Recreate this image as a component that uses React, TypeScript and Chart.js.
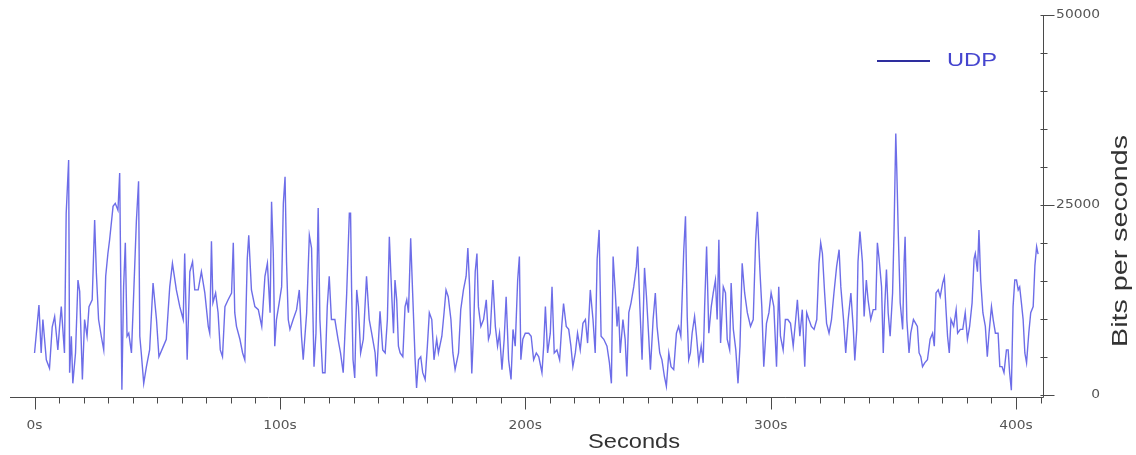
import React, { useEffect, useRef } from "react";
import { Chart, registerables } from "chart.js";

Chart.register(...registerables);

// Sample times (seconds)
const sampleSeconds: number[] = [
  0, 1.8, 2.7, 3.4, 4.8, 6.1, 7.2, 8.2, 9.5, 10.2,
  10.9, 12.2, 12.9, 13.9, 14.3, 15.0, 15.6, 16.7, 17.7, 18.4,
  19.5, 20.4, 21.4, 22.2, 23.5, 24.5, 25.2, 26.1, 27.2, 28.2,
  29.0, 29.9, 30.6, 32.0, 32.9, 34.0, 34.7, 35.6, 36.3, 37.0,
  37.7, 38.4, 39.5, 40.4, 41.5, 42.4, 42.9, 43.5, 44.5, 45.6,
  46.9, 48.3, 49.7, 50.7, 52.4, 53.7, 55.1, 56.2, 57.8, 59.2,
  60.6, 61.2, 62.2, 63.3, 64.4, 65.3, 66.7, 68.0, 69.4, 70.8,
  71.4, 72.1, 72.7, 73.8, 74.8, 75.7, 76.6, 77.6, 78.9, 80.3,
  81.0, 81.6, 82.3, 83.7, 84.8, 85.7, 86.7, 87.3, 88.4, 89.8,
  91.2, 92.6, 93.9, 94.9, 96.0, 96.6, 97.3, 97.9, 98.6, 99.7,
  100.7, 101.4, 102.1, 102.7, 103.4, 104.1, 105.4, 106.8, 107.9, 108.8,
  109.5, 110.9, 112.0, 112.9, 113.9, 114.7, 115.6, 116.3, 117.4, 118.4,
  119.3, 120.1, 121.0, 122.4, 123.7, 124.7, 125.8, 127.2, 128.3, 128.8,
  129.2, 129.8, 130.5, 131.3, 132.0, 132.9, 134.0, 135.3, 136.4, 137.4,
  138.8, 139.4, 140.8, 141.9, 142.9, 143.8, 144.6, 145.6, 146.3, 146.9,
  147.6, 148.3, 149.0, 150.1, 151.0, 151.7, 152.4, 153.3, 154.1, 155.1,
  155.7, 156.5, 157.4, 158.2, 159.2, 160.1, 160.9, 161.9, 162.8, 163.9,
  164.6, 166.0, 166.9, 167.7, 168.6, 169.7, 170.5, 171.4, 172.8, 173.7,
  174.8, 175.9, 176.6, 177.3, 178.2, 178.9, 179.6, 180.3, 180.9, 181.9,
  183.0, 184.1, 185.0, 185.7, 186.8, 187.8, 188.7, 189.5, 190.5, 191.4,
  192.2, 193.2, 194.2, 195.0, 195.9, 196.9, 197.6, 198.2, 199.0, 200.0,
  201.4, 202.4, 203.4, 204.5, 205.5, 206.8, 207.5, 208.2, 209.1, 210.2,
  210.9, 211.8, 212.9, 214.0, 214.9, 215.6, 216.7, 217.7, 218.6, 219.4,
  220.4, 221.3, 222.4, 223.5, 224.5, 225.4, 226.5, 227.6, 228.5, 229.3,
  230.1, 230.9, 232.0, 233.3, 234.3, 235.1, 235.8, 236.7, 237.4, 238.0,
  238.7, 239.8, 240.7, 241.4, 242.2, 243.1, 244.2, 245.3, 245.8, 246.7,
  247.6, 248.6, 249.4, 250.3, 251.0, 252.1, 253.0, 253.7, 254.8, 255.7,
  256.7, 257.5, 258.5, 259.4, 260.5, 261.6, 262.5, 263.4, 264.6, 265.3,
  266.0, 266.6, 267.3, 268.0, 269.0, 269.8, 270.7, 271.7, 272.5, 273.1,
  273.9, 274.8, 275.8, 276.6, 277.5, 278.2, 278.9, 279.6, 280.7, 281.6,
  282.3, 283.3, 283.9, 284.8, 285.8, 286.7, 287.5, 288.4, 289.4, 290.5,
  291.8, 292.9, 293.9, 294.6, 295.6, 296.4, 297.2, 298.3, 299.3, 300.2,
  301.3, 302.4, 303.3, 304.0, 305.1, 306.0, 307.0, 308.1, 309.2, 310.2,
  310.9, 311.9, 312.9, 313.9, 314.7, 315.6, 316.6, 317.7, 318.8, 319.7,
  320.4, 321.1, 322.0, 322.8, 323.8, 324.8, 325.8, 326.9, 327.9, 328.6,
  329.7, 330.6, 331.6, 332.7, 333.7, 334.3, 335.1, 335.6, 336.4, 337.4,
  338.1, 339.0, 339.7, 340.8, 341.8, 342.8, 343.5, 344.2, 345.2, 345.9,
  346.5, 347.2, 347.9, 348.7, 349.7, 350.3, 351.0, 351.4, 352.0, 352.8,
  353.8, 354.4, 354.8, 355.5, 356.4, 357.1, 358.2, 359.1, 359.8, 360.5,
  361.2, 361.9, 362.8, 363.9, 365.0, 366.0, 366.7, 367.4, 368.3, 369.1,
  370.1, 370.8, 371.4, 372.1, 372.8, 373.5, 374.6, 375.6, 376.2, 377.3,
  378.3, 379.3, 380.2, 381.1, 382.1, 382.9, 383.4, 384.3, 384.9, 385.6,
  386.5, 387.5, 388.3, 389.0, 390.0, 390.7, 391.6, 392.7, 393.4, 394.3,
  395.1, 396.1, 396.8, 397.4, 398.1, 398.8, 399.5, 400.2, 400.9, 401.5,
  402.2, 402.9, 403.6, 404.3, 405.2, 406.0, 407.0, 407.7, 408.4, 409.0,
];

// UDP throughput (bits per second) at each sample time
const udpBitsPerSecond: number[] = [
  5500, 11800, 5500, 9900, 4600, 3500, 8900, 10300, 5900, 8900,
  11600, 5500, 23900, 30900, 2900, 7700, 1500, 5500, 15100, 13600,
  2000, 9900, 7700, 11600, 12500, 23000, 16000, 9900, 7700, 5900,
  15600, 18600, 20400, 24800, 25200, 24300, 29200, 650, 14200, 20000,
  7700, 8100, 5500, 13200, 22800, 28100, 7700, 5500, 1500, 3700,
  5900, 14700, 9900, 5000, 6300, 7300, 14200, 17300, 13800, 11600,
  9900, 18600, 4600, 16200, 17500, 13800, 13800, 16200, 13400, 9000,
  8100, 20200, 12100, 13400, 10800, 5900, 5000, 11600, 12500, 13400,
  20000, 10800, 9000, 7300, 5500, 4600, 17900, 21000, 13800, 11600,
  11200, 9000, 15600, 17300, 10800, 25400, 18600, 6400, 9900, 12100,
  14200, 25200, 28700, 17500, 9900, 8600, 9900, 11200, 13800, 7700,
  4600, 10800, 21000, 19300, 3700, 8100, 24600, 9900, 2900, 2900,
  11600, 15600, 9900, 9900, 7300, 5500, 2900, 13200, 23900, 23900,
  14200, 4600, 2200, 13800, 11600, 5500, 7300, 15600, 9900, 8100,
  5500, 2400, 11000, 5900, 5500, 9900, 20800, 12900, 8100, 15100,
  12500, 6400, 5500, 5000, 11600, 12500, 10800, 20600, 13400, 4600,
  900, 4600, 5000, 2900, 2000, 6400, 10800, 9900, 4600, 7300,
  5500, 7700, 10800, 13800, 12900, 9900, 5500, 3300, 5500, 11200,
  13800, 15600, 19300, 14200, 2800, 8100, 16200, 18600, 11600, 9000,
  9900, 12500, 7300, 8100, 15100, 9000, 6400, 8100, 3300, 7300,
  12900, 4600, 2000, 8600, 6400, 15100, 18200, 4600, 7300, 8100,
  8100, 7700, 4600, 5500, 5000, 2900, 6400, 11600, 5500, 8100,
  14200, 5500, 5900, 4600, 9200, 12000, 9000, 8600, 6400, 3700,
  5500, 8100, 5900, 9400, 9900, 6800, 13800, 9900, 5500, 17900,
  21700, 7700, 7300, 6400, 4200, 1500, 18200, 13400, 9000, 11600,
  5500, 9900, 7300, 2400, 10800, 12100, 14200, 16900, 19500, 11600,
  4600, 16700, 12900, 7700, 3300, 9900, 13400, 9000, 5500, 4600,
  2400, 1100, 5500, 3700, 3300, 8100, 9000, 7700, 19100, 23500,
  10300, 4600, 5500, 8100, 10300, 7700, 4200, 6400, 4200, 11600,
  19500, 8100, 11600, 13400, 15100, 9900, 20400, 6800, 14200, 13400,
  7300, 5900, 14700, 8600, 5900, 1500, 6400, 17300, 13400, 10800,
  9000, 9900, 20400, 24100, 16500, 11600, 3700, 9400, 10800, 13400,
  11600, 3700, 14200, 7700, 5900, 9900, 9900, 9400, 6400, 9900,
  12500, 7700, 11200, 3700, 10800, 9900, 9000, 8600, 9900, 17300,
  20000, 18600, 13400, 9400, 8100, 9900, 13400, 16900, 19100, 14200,
  9900, 5500, 9900, 13400, 8600, 4500, 8600, 17500, 21500, 17500,
  10300, 15100, 12500, 9900, 11200, 11200, 20000, 17900, 14200, 5500,
  11600, 16500, 10800, 7700, 13400, 21700, 34400, 29800, 21500, 12100,
  8600, 17500, 20800, 9900, 5500, 8100, 9900, 9400, 9000, 5500,
  5000, 3700, 4200, 4600, 7300, 8100, 6400, 13400, 13800, 12900,
  14700, 15500, 11600, 7700, 5500, 9900, 9000, 11200, 8100, 8600,
  8600, 10800, 7300, 9000, 12100, 17900, 18600, 16200, 21700, 15100,
  10800, 9000, 5000, 8100, 11600, 9900, 8100, 8100, 3700, 3700,
  2900, 5900, 5900, 2900, 600, 11600, 15100, 15100, 13800, 14200,
  12100, 9900, 5500, 4200, 8100, 10800, 11600, 17000, 19500, 18500,
];

const seriesLabel = "UDP";
const xTickValues = [0, 100, 200, 300, 400];
const xTickLabels = ["0s", "100s", "200s", "300s", "400s"];
const yTickValues = [0, 25000, 50000];
const yTickLabels = ["0", "25000", "50000"];
const xAxisTitle = "Seconds";
const yAxisTitle = "Bits per seconds";

const AXIS_COLOR = "#4a4a4a";
const TICK_TEXT = "#555555";
const TITLE_TEXT = "#333333";
const LINE_COLOR = "rgba(84, 84, 228, 0.85)";
const LEGEND_LINE = "#2e2e9e";
const LEGEND_TEXT = "#4545cf";

function drawText(
  ctx: CanvasRenderingContext2D,
  text: string,
  x: number,
  y: number,
  font: string,
  color: string,
  align: CanvasTextAlign,
  baseline: CanvasTextBaseline,
  stretch: number,
  rotate = 0
) {
  ctx.save();
  ctx.font = font;
  ctx.fillStyle = color;
  ctx.textAlign = align;
  ctx.textBaseline = baseline;
  ctx.translate(x, y);
  if (rotate) ctx.rotate(rotate);
  ctx.scale(stretch, 1);
  ctx.fillText(text, 0, 0);
  ctx.restore();
}

const axesPlugin = {
  id: "customAxes",
  afterDraw(chart: any) {
    const ctx: CanvasRenderingContext2D = chart.ctx;
    const xs = chart.scales.x;
    const ys = chart.scales.y;
    const area = chart.chartArea;
    const bottom = Math.round(area.bottom) + 0.5;
    const right = Math.round(area.right) + 0.5;

    ctx.save();
    ctx.strokeStyle = AXIS_COLOR;
    ctx.lineWidth = 1;
    ctx.beginPath();
    ctx.moveTo(area.left, bottom);
    ctx.lineTo(right, bottom);
    ctx.moveTo(right, Math.round(area.top));
    ctx.lineTo(right, bottom);
    // x ticks every 10 s, longer at each 100 s
    for (let v = 0; v <= 410; v += 10) {
      const px = Math.round(xs.getPixelForValue(v)) + 0.5;
      const len = v % 100 === 0 ? 12 : 6;
      ctx.moveTo(px, bottom);
      ctx.lineTo(px, bottom + len);
    }
    // y ticks every 5000, longer at labelled values
    for (let v = 0; v <= 50000; v += 5000) {
      const py = Math.round(ys.getPixelForValue(v)) + 0.5;
      if (v % 25000 === 0) {
        ctx.moveTo(right - 3, py);
        ctx.lineTo(right + 11, py);
      } else {
        ctx.moveTo(right - 3, py);
        ctx.lineTo(right + 4, py);
      }
    }
    ctx.stroke();
    ctx.restore();

    const tickFont = "12px 'DejaVu Sans'";
    xTickValues.forEach((v, i) => {
      drawText(ctx, xTickLabels[i], xs.getPixelForValue(v), bottom + 28, tickFont, TICK_TEXT, "center", "middle", 1.15);
    });
    yTickValues.forEach((v, i) => {
      drawText(ctx, yTickLabels[i], 1100, ys.getPixelForValue(v), tickFont, TICK_TEXT, "right", "middle", 1.15);
    });

    // axis titles
    ctx.save();
    ctx.font = "21px 'Liberation Sans'";
    const wx = ctx.measureText(xAxisTitle).width;
    ctx.font = "22px 'Liberation Sans'";
    const wy = ctx.measureText(yAxisTitle).width;
    ctx.font = "19px 'Liberation Sans'";
    const wl = ctx.measureText(chart.data.datasets[0].label).width;
    ctx.restore();
    drawText(ctx, xAxisTitle, 634, 448, "21px 'Liberation Sans'", TITLE_TEXT, "center", "alphabetic", 92 / wx);
    drawText(ctx, yAxisTitle, 1127, 241, "22px 'Liberation Sans'", TITLE_TEXT, "center", "alphabetic", 212 / wy, -Math.PI / 2);

    // legend
    ctx.save();
    ctx.strokeStyle = LEGEND_LINE;
    ctx.lineWidth = 2;
    ctx.beginPath();
    ctx.moveTo(877, 61);
    ctx.lineTo(930, 61);
    ctx.stroke();
    ctx.restore();
    drawText(ctx, chart.data.datasets[0].label, 947, 61, "19px 'Liberation Sans'", LEGEND_TEXT, "left", "middle", 50 / wl);
  },
};

export default function App() {
  const canvasRef = useRef<HTMLCanvasElement | null>(null);

  useEffect(() => {
    if (!canvasRef.current) return;
    const points = sampleSeconds.map((s, i) => ({ x: s, y: udpBitsPerSecond[i] }));
    const chart = new Chart(canvasRef.current, {
      type: "line",
      data: {
        datasets: [
          {
            label: seriesLabel,
            data: points,
            borderColor: LINE_COLOR,
            backgroundColor: LINE_COLOR,
            borderWidth: 1.4,
            pointRadius: 0,
            tension: 0,
            fill: false,
          },
        ],
      },
      options: {
        animation: false,
        responsive: false,
        maintainAspectRatio: false,
        layout: { padding: { left: 10, right: 93, top: 15, bottom: 58 } },
        scales: {
          x: { type: "linear", min: -10, max: 411, display: false },
          y: { type: "linear", min: -300, max: 50000, display: false },
        },
        plugins: {
          legend: { display: false },
          tooltip: { enabled: false },
        },
      },
      plugins: [axesPlugin],
    });
    return () => chart.destroy();
  }, []);

  return (
    <div style={{ position: "fixed", left: 0, top: 0, width: 1136, height: 455, background: "#ffffff" }}>
      <canvas ref={canvasRef} width={1136} height={455} style={{ display: "block" }} />
    </div>
  );
}
